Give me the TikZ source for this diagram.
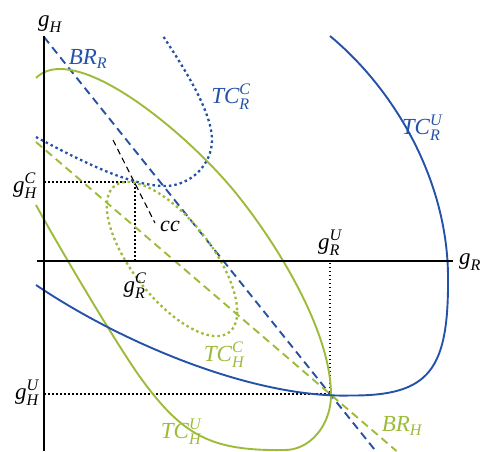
\documentclass[tikz,border=0pt]{standalone}
\usepackage{amsmath}
\usepackage{fontspec}
\setmainfont{Liberation Serif}
\definecolor{bl}{RGB}{36,82,168}
\definecolor{gr}{RGB}{157,187,58}
\newcommand{\mylab}[3]{$\text{\itshape #1}_{\text{\itshape #2}}^{\text{\itshape #3}}$}
\newcommand{\mylabs}[2]{$\text{\itshape #1}_{\text{\itshape #2}}$}
\begin{document}
\begin{tikzpicture}[x=1pt,y=-1pt,
  axis/.style={line width=2.4pt,black},
  curve/.style={line width=1.9pt},
  brline/.style={line width=1.9pt,dash pattern=on 8pt off 5pt},
  dotcurve/.style={line width=2.3pt,dash pattern=on 2.5pt off 3pt},
  guide/.style={line width=1.1pt,dash pattern=on 1.5pt off 2.5pt},
  ccline/.style={line width=1.1pt,dash pattern=on 6pt off 4pt},
  lab/.style={font=\fontsize{23}{27}\selectfont,inner sep=0pt}]
\useasboundingbox (0,0) rectangle (482,451);
\coordinate (C) at (135,182);
\coordinate (U) at (330,394);
\coordinate (oy1) at (44,36);
\coordinate (oy2) at (44,451);
\coordinate (ox1) at (37,261);
\coordinate (ox2) at (453,261);
% guide lines
\draw[guide] (44,182) -- (C) -- (135,261);
\draw[guide] (44,394) -- (U) -- (330,261);
% CC line
\draw[ccline] (113,140) -- (155,223);
% best responses
\draw[brline,bl] (44,37) -- (375.7,451);
\draw[brline,gr] (36,142) -- (396.5,451);
% TC_R^C dotted
\draw[dotcurve,bl] (36,137) .. controls (81,161) and (130,186) .. (165,186)
  .. controls (190,186) and (212,165) .. (212,140)
  .. controls (212,110) and (180,62) .. (163,36);
% TC_H^C dotted ellipse
\draw[dotcurve,gr] plot[domain=0:360,samples=120,smooth] ({172+65.2*cos(\x)},{259+52.7*cos(\x)+56.3*sin(\x)});
% TC_H^U
\draw[curve,gr] (36,78) .. controls (42,72) and (50,69) .. (60,69)
  .. controls (110,69) and (195,143) .. (235,192)
  .. controls (275,241) and (331,330) .. (331,395)
  .. controls (331,425) and (310,451) .. (283,450)
  .. controls (210,451) and (182,435) .. (140,377)
  .. controls (115,342) and (55,240) .. (36,205);
% TC_R^U
\draw[curve,bl] (36,285) .. controls (125,345) and (255,398) .. (350,395.5)
  .. controls (430,396) and (449,370) .. (448,275)
  .. controls (447,180) and (395,90) .. (330,36);
% axes
\draw[axis] (oy1) -- (oy2);
\draw[axis] (ox1) -- (ox2);
% labels
\node[lab] (gH) at (50,24) {\mylabs{g}{H}};
\node[lab] (gR) at (470,262) {\mylabs{g}{R}};
\node[lab] (gHC) at (25,186) {\mylab{g}{H}{C}};
\node[lab] (gHU) at (27,393) {\mylab{g}{H}{U}};
\node[lab] (gRC) at (135,286) {\mylab{g}{R}{C}};
\node[lab] (gRU) at (330,243) {\mylab{g}{R}{U}};
\node[font=\fontsize{22}{26}\selectfont\itshape,inner sep=0pt] (cc) at (170,226) {cc};
\node[lab,bl] (brr) at (88,59) {\mylabs{BR}{R}};
\node[lab,bl] (tcrc) at (231,97) {\mylab{TC}{R}{C}};
\node[lab,bl] (tcru) at (422,128) {\mylab{TC}{R}{U}};
\node[lab,gr] (tchc) at (224,355) {\mylab{TC}{H}{C}};
\node[lab,gr] (tchu) at (181,432) {\mylab{TC}{H}{U}};
\node[lab,gr] (brh) at (402,426) {\mylabs{BR}{H}};
\end{tikzpicture}
\end{document}
